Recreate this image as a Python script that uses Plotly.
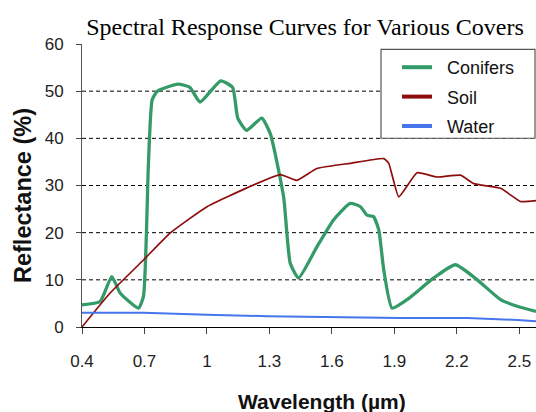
import plotly.graph_objects as go

# Conifers
con_wl = [0.40, 0.487, 0.543, 0.583, 0.671, 0.695, 0.719, 0.737, 0.762, 0.861, 0.918, 0.967, 1.066, 1.123, 1.148, 1.19, 1.263, 1.304, 1.368, 1.40, 1.44, 1.528, 1.608, 1.688, 1.737, 1.769, 1.80, 1.825, 1.849, 1.889, 1.961, 2.089, 2.193, 2.298, 2.41, 2.49, 2.58]
con_r = [4.7, 5.4, 10.7, 7.2, 4.0, 6.5, 34.7, 48.2, 50.0, 51.5, 50.8, 47.7, 52.2, 50.8, 44.3, 41.7, 44.3, 41.0, 27.6, 13.5, 10.4, 17.0, 22.7, 26.2, 25.5, 23.7, 23.4, 20.6, 12.1, 4.0, 5.8, 10.4, 13.2, 10.0, 5.8, 4.4, 3.3]

# Soil
soil_wl = [0.40, 0.535, 0.695, 0.823, 1.0, 1.192, 1.352, 1.432, 1.528, 1.688, 1.849, 1.873, 1.921, 2.009, 2.105, 2.217, 2.281, 2.41, 2.506, 2.58]
soil_r = [0.0, 7.2, 14.2, 19.9, 25.5, 29.5, 32.3, 31.1, 33.6, 34.7, 35.7, 34.7, 27.6, 32.7, 31.8, 32.2, 30.4, 29.4, 26.6, 26.8]

# Water
water_wl = [0.40, 0.695, 1.0, 1.288, 1.93, 2.25, 2.49, 2.58]
water_r = [3.0, 3.0, 2.6, 2.3, 1.9, 1.9, 1.5, 1.2]

series_names = ["Conifers", "Soil", "Water"]
series_colors = ["#349a68", "#8e0c0c", "#4676ec"]

x_ticks = [0.4, 0.7, 1.0, 1.3, 1.6, 1.9, 2.2, 2.5]
x_tick_labels = ["0.4", "0.7", "1", "1.3", "1.6", "1.9", "2.2", "2.5"]
y_ticks = [0, 10, 20, 30, 40, 50, 60]

fig = go.Figure()
fig.add_trace(go.Scatter(x=con_wl, y=con_r, mode="lines", name=series_names[0], legendgroup="a",
                         showlegend=False,
                         line=dict(color=series_colors[0], width=3.3, shape="spline", smoothing=0.5)))
fig.add_trace(go.Scatter(x=soil_wl, y=soil_r, mode="lines", name=series_names[1], legendgroup="b",
                         showlegend=False,
                         line=dict(color=series_colors[1], width=1.7, shape="spline", smoothing=0.4)))
fig.add_trace(go.Scatter(x=water_wl, y=water_r, mode="lines", name=series_names[2], legendgroup="c",
                         showlegend=False,
                         line=dict(color=series_colors[2], width=2)))
# legend entries (thick sample lines as in the reference)
for name, color, grp in zip(series_names, series_colors, ["a", "b", "c"]):
    fig.add_trace(go.Scatter(x=[None], y=[None], mode="lines", name="\u00a0\u00a0" + name,
                             legendgroup=grp, line=dict(color=color, width=4)))

shapes = []
for v in y_ticks[1:-1]:
    shapes.append(dict(type="line", xref="paper", x0=0, x1=1, yref="y", y0=v, y1=v,
                       line=dict(color="black", width=1, dash="4px,3px"), layer="below"))
# legend frame
shapes.append(dict(type="rect", xref="paper", yref="paper", x0=0.6586, x1=0.9978, y0=0.667, y1=0.981,
                   line=dict(color="#555", width=1.2), fillcolor="white", layer="above"))

fig.update_layout(
    width=536, height=412,
    margin=dict(l=82, r=0, t=44, b=85),
    paper_bgcolor="white", plot_bgcolor="white",
    title=dict(text="Spectral Response Curves for Various Covers", x=0.569, xanchor="center",
               y=0.935, yanchor="middle",
               font=dict(family="Liberation Serif", size=24, color="black")),
    font=dict(family="Liberation Sans, Arial", color="#222"),
    xaxis=dict(range=[0.4, 2.58], tickvals=x_ticks, ticktext=x_tick_labels,
               showgrid=False, showline=True, linecolor="black", linewidth=1,
               ticks="outside", ticklen=6, tickcolor="#444", tickfont=dict(size=17),
               ticklabelstandoff=13, zeroline=False, automargin=False),
    yaxis=dict(range=[0, 60], tickvals=y_ticks, showgrid=False, showline=True,
               linecolor="#555", linewidth=1,
               ticks="outside", ticklen=5, tickcolor="#444", tickfont=dict(size=17),
               ticklabelstandoff=9, zeroline=False, automargin=False),
    shapes=shapes,
    annotations=[
        dict(text="<b>Wavelength (µm)</b>", xref="paper", yref="paper",
             x=(322 - 82) / 454, y=-(401 - 327) / 283, xanchor="center", yanchor="middle",
             showarrow=False, font=dict(size=21, color="#111")),
        dict(text="<b>Reflectance (%)</b>", xref="paper", yref="paper", textangle=-90,
             x=-(82 - 23) / 454, y=(327 - 196) / 283, xanchor="center", yanchor="middle",
             showarrow=False, font=dict(size=23.5, color="#111")),
    ],
    legend=dict(x=(397 - 82) / 454, y=(327 - 49) / 283, xanchor="left", yanchor="top",
                bgcolor="rgba(0,0,0,0)", borderwidth=0, font=dict(size=18, color="#111"),
                tracegroupgap=3, traceorder="grouped"),
)

fig.write_html("out.html", config={"displayModeBar": False},
               post_script="document.body.style.margin='0';document.body.style.overflow='hidden';")
